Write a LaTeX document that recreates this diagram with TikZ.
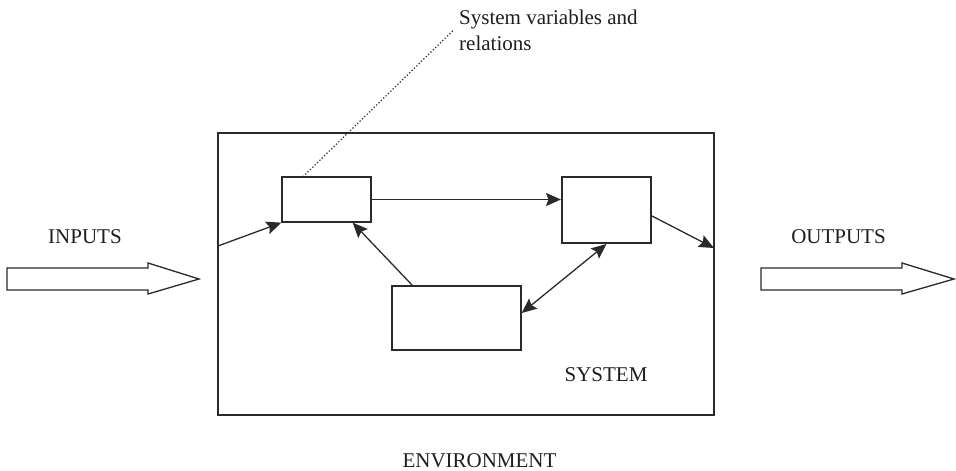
\documentclass[tikz,border=0pt]{standalone}
\usepackage{fontspec}
\setmainfont{Liberation Serif}
\usepackage{xcolor}
\usepackage{tikz}
\usetikzlibrary{arrows.meta,positioning,calc}
\definecolor{sysline}{HTML}{2A2A2A}
\definecolor{systext}{HTML}{1E1E1E}
\tikzset{
  sysframe/.style={rectangle, draw=sysline, line width=1.4pt, minimum width=496pt, minimum height=282pt, inner sep=0pt},
  varbox/.style={rectangle, draw=sysline, line width=1.3pt, fill=white, inner sep=0pt},
  label/.style={font=\fontsize{21}{26}\selectfont, text=systext, inner sep=0pt},
  flow/.style={draw=sysline, line width=1.3pt, -{Stealth[length=15pt, width=13pt, inset=2.5pt]}},
  twoway/.style={draw=sysline, line width=1.3pt, {Stealth[length=15pt, width=13pt, inset=2.5pt]}-{Stealth[length=15pt, width=13pt, inset=2.5pt]}},
  hollow/.style={draw=sysline, line width=1.3pt, fill=white},
}
\begin{document}
\begin{tikzpicture}[x=1pt, y=-1pt]
  \useasboundingbox (0,0) rectangle (956,471);
  \node[sysframe] (sys) at (466,274) {};
  \node[varbox, minimum width=89pt, minimum height=45pt] (vars) at (326.5,199.5) {};
  \node[varbox, minimum width=89pt, minimum height=66pt, line width=2pt] (proc) at (606.5,210) {};
  \node[varbox, minimum width=129pt, minimum height=64pt] (fb) at (456.5,318) {};
  \coordinate (inport) at (218,246);
  \coordinate (outport) at (714,248);
  % labels
  \node[label, anchor=north west, align=left] (note) at (459,10) {System variables and\\relations};
  \node[label, anchor=base] (inputs) at (85,243) {INPUTS};
  \node[label, anchor=base] (outputs) at (838.5,243) {OUTPUTS};
  \node[label, anchor=base] (system) at (606,381) {SYSTEM};
  \node[label, anchor=base] (env) at (479.5,467) {ENVIRONMENT};
  % relations
  \draw[flow] (inport) -- (vars.south west);
  \draw[flow] (vars.east) -- (vars.east -| proc.west);
  \draw[flow] ([xshift=21pt]fb.north west) -- ([xshift=-19pt]vars.south east);
  \draw[twoway] ([yshift=5pt]fb.east) -- (proc.south);
  \draw[flow] ([yshift=-6pt]proc.east) -- (outport);
  \draw[draw=sysline, line width=1.7pt, dash pattern=on 0pt off 3.3pt, line cap=round] ([xshift=22pt]vars.north west) -- ([xshift=-6pt]note.west);
  % inputs and outputs
  \draw[hollow] (7,268) -- (148,268) -- (148,263) -- (199,279) -- (148,294) -- (148,290) -- (7,290) -- cycle;
  \draw[hollow] (761,268) -- (902,268) -- (902,263) -- (954,279) -- (902,294) -- (902,290) -- (761,290) -- cycle;
\end{tikzpicture}
\end{document}
